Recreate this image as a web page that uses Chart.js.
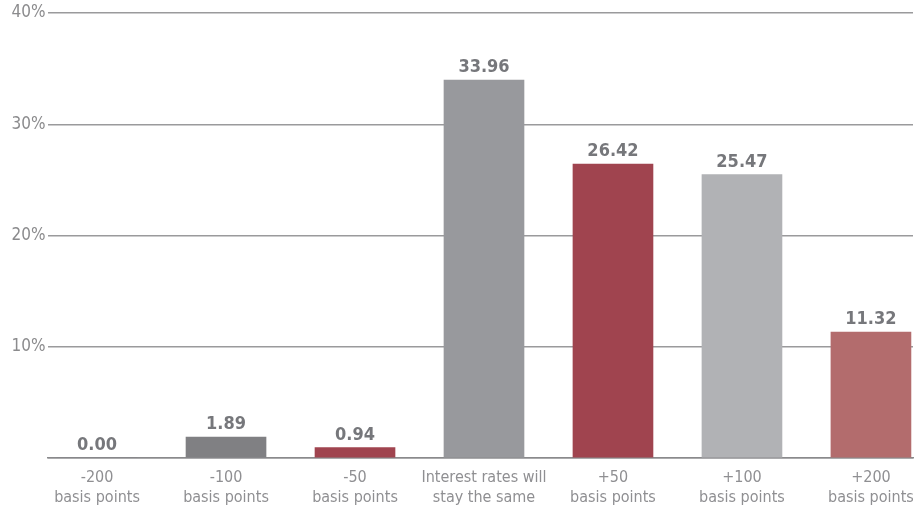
<!DOCTYPE html>
<html>
<head>
<meta charset="utf-8">
<script src="https://cdn.jsdelivr.net/npm/chart.js@4"></script>
<style>
  html, body { margin: 0; padding: 0; background: #fff; }
  #wrap { width: 923px; height: 512px; position: relative; }
</style>
</head>
<body>
<div id="wrap"><canvas id="rateChart"></canvas></div>
<script>
// ---- data ----
const categories = [
  ['-200', 'basis points'],
  ['-100', 'basis points'],
  ['-50', 'basis points'],
  ['Interest rates will', 'stay the same'],
  ['+50', 'basis points'],
  ['+100', 'basis points'],
  ['+200', 'basis points']
];
const shares = [0.00, 1.89, 0.94, 33.96, 26.42, 25.47, 11.32];
const barColors = ['#808083', '#808083', '#a0444f', '#98999d', '#a0444f', '#b1b2b5', '#b36c6d'];
const yTicks = [0, 10, 20, 30, 40];

// no narrow font installed, so ask for the condensed width of DejaVu
const FONT = "'DejaVu Sans', sans-serif";

// value labels above bars
const valueLabels = {
  id: 'valueLabels',
  afterDatasetsDraw(chart) {
    const ctx = chart.ctx;
    const meta = chart.getDatasetMeta(0);
    ctx.save();
    ctx.font = 'bold condensed 18px ' + FONT;
    ctx.fillStyle = '#76777b';
    ctx.textAlign = 'center';
    ctx.textBaseline = 'alphabetic';
    meta.data.forEach((bar, i) => {
      ctx.fillText(shares[i].toFixed(2), bar.x, bar.y - 8);
    });
    ctx.restore();
  }
};

new Chart(document.getElementById('rateChart'), {
  type: 'bar',
  data: {
    datasets: [{
      data: shares.map((v, i) => ({ x: i, y: v })),
      backgroundColor: barColors,
      barThickness: 80,
      borderWidth: 0
    }]
  },
  options: {
    responsive: true,
    maintainAspectRatio: false,
    animation: false,
    layout: { padding: { top: 13, right: 10, bottom: 0, left: 0 } },
    plugins: { legend: { display: false }, tooltip: { enabled: false } },
    scales: {
      x: {
        type: 'linear',
        offset: false,
        min: -0.384,
        max: 6.326,
        grid: { display: false },
        border: { display: true, color: '#8a8a8c', width: 1.5 },
        afterFit: s => { s.height = 54; },
        ticks: {
          stepSize: 1,
          includeBounds: false,
          autoSkip: false,
          maxRotation: 0,
          padding: 1,
          color: '#8f8f92',
          font: { family: FONT, size: 16, weight: 'condensed', lineHeight: 1.3 },
          callback: v => Number.isInteger(v) && categories[v] ? categories[v] : ''
        }
      },
      y: {
        min: 0,
        max: 40,
        afterFit: s => { s.width = 47.5; },
        afterBuildTicks: s => { s.ticks = yTicks.map(v => ({ value: v })); },
        grid: { color: '#9a9a9c', lineWidth: 1.5, drawTicks: false },
        border: { display: false },
        ticks: {
          padding: 2,
          color: '#8b8b8d',
          font: { family: FONT, size: 17, weight: 'condensed' },
          callback: v => v === 0 ? '' : v + '%'
        }
      }
    }
  },
  plugins: [valueLabels]
});
</script>
</body>
</html>
